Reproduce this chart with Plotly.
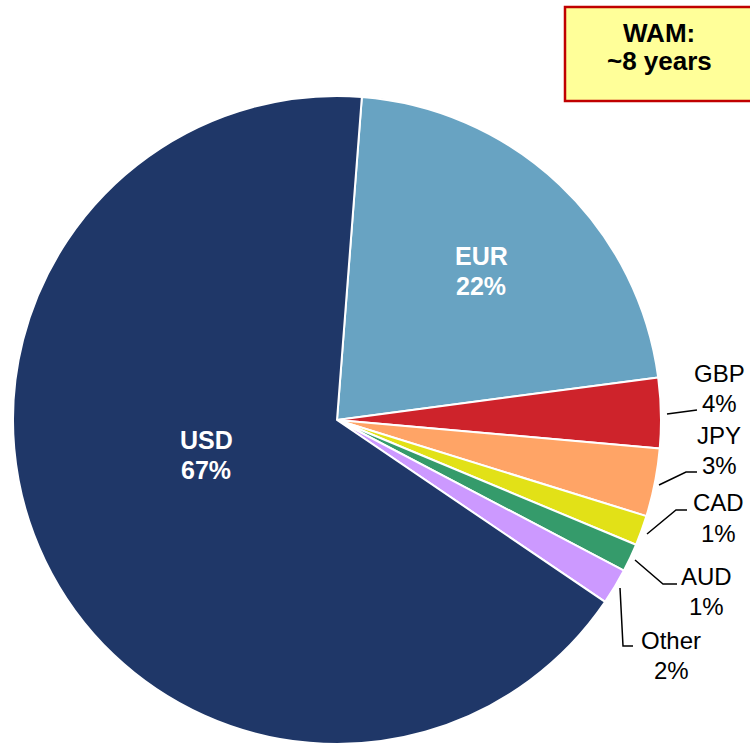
import plotly.graph_objects as go

# currency split (clockwise from the top)
currencies = ["EUR", "GBP", "JPY", "CAD", "AUD", "Other", "USD"]
shares = [21.7, 3.5, 3.4, 1.5, 1.4, 1.8, 66.8]
share_labels = ["22%", "4%", "3%", "1%", "1%", "2%", "67%"]
colors = ["#68A3C2", "#CE232B", "#FFA466", "#E2E117", "#359B6B", "#CC99FF", "#1F3768"]

W, H = 750, 744
FONT = "Liberation Sans, Arial, sans-serif"
FS = 24
LINE = 30  # px between the two lines of a label


def px(x, y):
    # pixel position -> paper coords
    return x / W, 1 - y / H


fig = go.Figure()
fig.add_trace(go.Pie(
    labels=currencies,
    values=shares,
    sort=False,
    direction="clockwise",
    rotation=4.4,
    marker=dict(colors=colors, line=dict(color="white", width=2)),
    textinfo="none",
    hoverinfo="label+percent",
    showlegend=False,
    domain=dict(x=[13 / W, 661 / W], y=[0, 648 / H]),
))

# label centres (pixels); inside labels white bold, outside black
label_pos = {
    "EUR": (481, 271),
    "USD": (206, 455),
    "GBP": (719, 388),
    "JPY": (719, 450),
    "CAD": (718, 518),
    "AUD": (706, 591),
    "Other": (671, 655),
}
inside = {"EUR", "USD"}

annotations = []
for cur, lab in zip(currencies, share_labels):
    cx, cy = label_pos[cur]
    for k, line in enumerate([cur, lab]):
        x, y = px(cx, cy + (k - 0.5) * LINE)
        annotations.append(dict(
            x=x, y=y, xref="paper", yref="paper",
            text=f"<b>{line}</b>" if cur in inside else line,
            showarrow=False, xanchor="center", yanchor="middle",
            font=dict(family=FONT, size=25 if cur in inside else FS,
                      color="white" if cur in inside else "black"),
        ))

# leader lines for the small slices
leaders = [
    [(667, 414), (697, 410)],
    [(659, 485), (686, 472), (697, 472)],
    [(647, 534), (676, 510), (687, 510)],
    [(635, 560), (663, 584), (677, 584)],
    [(620, 588), (623, 646), (633, 646)],
]
shapes = []
for pts in leaders:
    path = ""
    for i, p in enumerate(pts):
        x, y = px(*p)
        path += ("M" if i == 0 else " L") + f" {x:.5f} {y:.5f}"
    shapes.append(dict(type="path", path=path, xref="paper", yref="paper",
                       line=dict(color="black", width=1.5)))

# WAM call-out box
bx0, by0 = px(565, 7)
bx1, by1 = px(760, 101)
shapes.append(dict(type="rect", xref="paper", yref="paper",
                   x0=bx0, y0=by1, x1=bx1, y1=by0,
                   fillcolor="#FFFF99", line=dict(color="#C00000", width=2.5)))
for k, line in enumerate(["WAM:", "~8 years"]):
    x, y = px(659, 33 + k * 28)
    annotations.append(dict(
        x=x, y=y, xref="paper", yref="paper", showarrow=False,
        text=f"<b>{line}</b>", xanchor="center", yanchor="middle",
        font=dict(family=FONT, size=26, color="black"),
    ))

fig.update_layout(
    width=W, height=H,
    margin=dict(l=0, r=0, t=0, b=0),
    paper_bgcolor="white",
    plot_bgcolor="white",
    shapes=shapes,
    annotations=annotations,
)

fig.write_html("out.html", config={"displayModeBar": False},
               post_script="document.body.style.margin='0';")
